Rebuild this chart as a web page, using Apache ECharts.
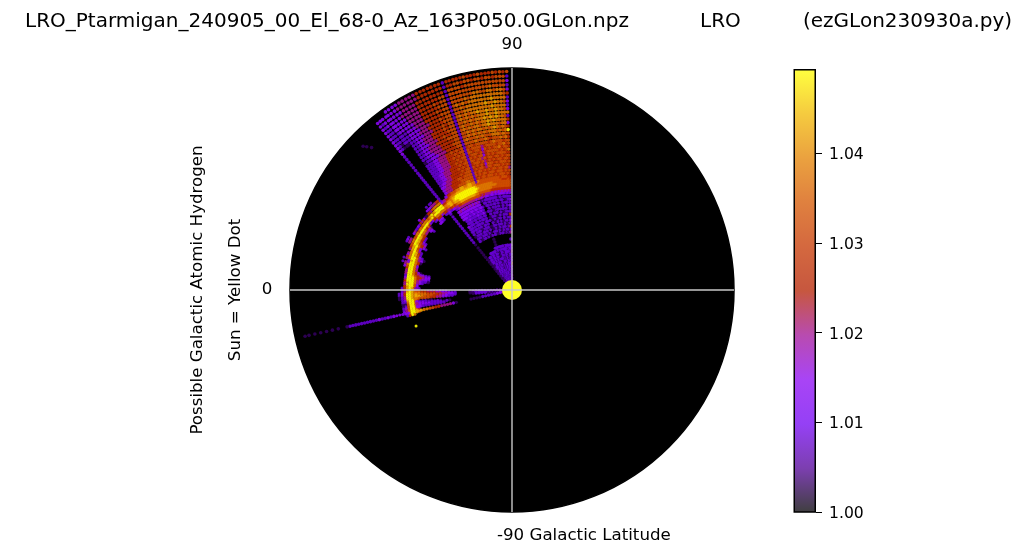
<!DOCTYPE html>
<html><head><meta charset="utf-8">
<style>html,body{margin:0;padding:0;background:#fff}#c{width:1024px;height:556px}</style>
<script src="https://cdn.jsdelivr.net/npm/echarts@6/dist/echarts.min.js"></script>
</head><body><div id="c"></div>
<script>
const colorTicks = [1.00, 1.01, 1.02, 1.03, 1.04];
const colorMin = 1.0, colorMax = 1.0494;
const gnuplotStops = ['#000000','#510096','#7202f2','#8c07f2','#a11096','#b42000','#c63700','#d55700','#e48300','#f2ba00','#ffff00'];
const levelValues = {1:1.003,2:1.008,3:1.014,4:1.020,5:1.027,6:1.033,7:1.038,8:1.043,9:1.049};

const mainAngles = [1.4,2.4,3.3,4.3,5.2,6.2,7.1,8.1,9.1,10,11,11.9,12.9,13.8,14.8,15.7,16.7,17.6,18.6,19.7,20.7,21.8,22.8,23.9,24.9,26,27,28.1,29.1,30.2,31.2,32.3,33.3,34.4,35.4,36.1,37.2,38,38.9];
const mainRadii = [6,9,12,15,18,21,24,27,30,33,36,39,42,45,48,51,54,58,61,64,67,70,73,76,79,82,85,88,91,94,97.5,100,102.5,105,107.5,110,112,114,117,120,123,126,129,132,135,138,141,144,147,150,153.5,157,160.5,164,167.5,171,174.5,178,181.6,185.2,189,193,197,201,205.2,209.5,214,218.5];
const mainRows = [
"2212222122212221222122212221221222122..",
"3122212.22212221.22122212221221.22122..",
"2222.2212221.2212221222.2212221222.21..",
"4122212.2.2122212.21222122.2122212.21.1",
"21.2212221.212.22.212.22212.21221.22..1",
"3212.2122.2.1221.22.1222.2122.22122.2.1",
"22.212.22.12.2.21.2.1.22122.2.1222.21.1",
"5.1222.2.2.1.22.1.2.12.2.212.212.222..1",
"22.2.12.2.1.2..2.21.1.2.22.2122.2.21..1",
"3.212.1.22.1.2.12.2..2.12.212.2122.2..1",
"22.2.21.2.2.12..2.1.1.222.122.212.2...1",
"4.212.222.2.1.2.2.1..2.2.2122.2122....1",
"22.22.12.22.2..2...2.2122.2.22........1",
"3.2.22.22.12.2.2.2.2.2................1",
"...................1..................1",
"2..................1..................1",
"...................1..................1",
"4.21.21.2..2.1.12..2.1.2.12.21.12.....1",
"2.12.212.1.2.12.2..1.2.12.2.212.2.....2",
"5.2.12.2.12.1.2.1..2.12.22.12.2.21....2",
"2.21.2.12.2..2.2.1.12.2.21.22.2.12....2",
"3.12.21.2.12.1.2...2.22.12.2.22.22....2",
"2.2.12..2.21.2.1.2.22.12.222.2.222....2",
"5.12.2.12.1.2.2.1..2.22.2.22.222.3....2",
"2.2.21.2.12.2.12...22.222.22.2222.....2",
"2.12.2.2.2.21.2.2.123222322222322.....2",
"3.2.12.12.2.2.12...223232232232333....2",
"2.22.2.12.22.2.22.1233233233233333....2",
"3221.22.22.2.22.22..33333333333333....2",
"22222.22122222222.2134343434343343....2",
"3232333323233233.43443444444444432....2",
"434343434343444454566666666666554433223",
"555555555555666666677888888888776565544",
"666666666667777777789999999999888788776",
"666666667777777777899999999999998788877",
"666666666677777777789999999999988777655",
"565556666666666666677888888888777655443",
"5566656666666666672778877887766655 3...2".replace(' ',''),
"5656665656665665652667766665554443....2",
"6565666566656656562666666555554443....2",
"4665665665656566562666656655544433....2",
"5656566656645665652666565555444332....2",
"6566656566635656562665655555443322....2",
"5665665656546566652656565554443322....2",
"6656566566564665662665655554443322....2",
"5566665656536656562656565544433222....2",
"7656566666546566652665655544433222....2",
"5665766565635665662656565544433222....2",
"6576656666546666562665655544433222....2",
"6656667656666656652656565544433222....2",
"5767666567666766662665555444333221....2",
"6676777666767666762666555544433322....2",
"9767677767676767662665555544443322....2",
"5676787676776767662666655554443322....2",
"3776777877677676762665565544433322....2",
"5777787877676766762666555554443322....2",
"2677878787776767662665655554443322....3",
"777787787776767676266565554443332211123",
"367787787787767676266655555444333222123",
"277778777777777666266565554443333222223",
"367787787777776766266655555444333222223",
"277778777777767676266565555444333332223",
"567777777777676666266655555444433333223",
"367767766776666666266565555444433333223",
"266667666666666666266555555444443333323",
"366666666666656666255555555444433333323",
"266656656656656655255555554444443333333",
"65656555655565555525555555444443333"
];

const arcAngles = [40,41,42,43,44,45,46,47,48,49,50,51,52,53,54,55,56,57,58,59,60,61,62,63,64,65,66,67,68,69,70,71,72,73,74,75,76,77,78,79,80,81,82,83,84,85,86,87,88,89,90,91,92,93,94,95,96,97,98,99,100,101,102,103,104];
const arcRadii = [84,87,90,92.5,95,97.5,100,102.5,105,107.5,110,113,116,119];
const arcColumns = [
"......2579975.","......2579975.",".......479974.",".......3799742",".....235799742",
".....23579863.",".....335797432",".....3.357953.",".......25985..","........3871..",
"........2861..","........3873..",".......15975..",".....23479743.","......335975..",
".......46962..",".......47973..",".......47972..",".......57962..","......257974..",
"......258973..","......25896...",".....235896...",".....34689742.",".....45689743.",
"....235799642.","......36986...","......36985...",".....247984...",".....25897....",
".....268974...","....2368973...","...12479975...","....34799742..","....157983....",
".....5799342..",".....379974...",".....379963...",".....47995....",".....47994....",
"...1357994....","2233457994....","3344568992....","3345579993....","2334579994....",
"1223479995....","..23479984....","....369994....","....369985....","....3689852...",
"....4789853...","....5789842...","....57899532..","....57899532..","....57899421..",
"....57899421..","....5799832...","....4799722...","....3799611...","....3799621...",
"....3799632...","....4799642...","....5899743...","....5899731...","......7952...."
];

const fanAngles = [89,90,91,92,93,94,95,96,97,98,99,100,101,102.5,103.5];
const fanRadii = [6,9,12,15,18,21,24,27,30,33,36,39,42,57,60,63,66,69,72,75,78,81,84,87,90,93,96];
const fanRows = [
"..34553322...4.","..34553322...4.","..24542222...3.","..23432211...3.","..22322211...2.",
"..22222.1....2.","..12222.1....2.","..12222......2.","..21222......2.","..22222......1.",
"..22122......1.","..12211......1.","..11.1.......1.",
"...222.......1.","...2332......3.","...3332...1..4.","..23433...2..4.","..23443...12.4.",
"..34544..122.4.","..34554..222.5.","..45655..222.5.","..45665.1222.6.","..45666.1232.6.",
"..56766.2232.7.","..56776.2332.7.","2.67786.2333.8.","2467887.3443.8."
];

const farSpikeAngle = 102.6;
const farSpikeRadii = [106,109,112,115,118,121,124,127,130,133,136,139,142,145,148,151,154,157,160,163,166,169,178,184,190,196,202,208,212];
const farSpikeLevels = [3,3,3,3,3,3,2,3,2,2,3,2,2,2,2,2,2,2,2,2,2,1,1,1,1,1,1,1,1];
const strayPoints = [[110.6,102.5,9],[45.4,204,1],[44.6,200,1],[46,207,1]];
const sunPoint = [[0,0]];
const crossLines = [[[222,0],[222,180]],[[222,90],[222,270]]];

const points = [];
function addCell(r,a,ch){ const v = levelValues[ch]; if(v) points.push([r,a,v]); }
mainRows.forEach((row,i)=>{ for(let j=0;j<row.length;j++) addCell(mainRadii[i],mainAngles[j],row[j]); });
arcColumns.forEach((col,i)=>{ for(let j=0;j<col.length;j++) addCell(arcRadii[j],arcAngles[i],col[j]); });
fanRows.forEach((row,i)=>{ for(let j=0;j<row.length;j++) addCell(fanRadii[i],fanAngles[j],row[j]); });
farSpikeRadii.forEach((r,i)=>addCell(r,farSpikeAngle,farSpikeLevels[i]));
strayPoints.forEach(p=>addCell(p[1],p[0],p[2]));

const FONT = '"DejaVu Sans"';
function txt(t,x,y,size,align,rot){
  return {type:'text',x:x,y:y,rotation:rot||0,silent:true,
    style:{text:t,fontFamily:FONT,fontSize:size,fill:'#000',align:align||'left',verticalAlign:'middle'}};
}
const gradStops = gnuplotStops.map((c,i)=>({offset:i/(gnuplotStops.length-1),color:c+'c0'}));
const chart = echarts.init(document.getElementById('c'),null,{renderer:'canvas'});
chart.setOption({
  animation:false,
  backgroundColor:'#fff',
  polar:{center:[512,290],radius:222},
  angleAxis:{type:'value',min:0,max:360,interval:90,startAngle:90,clockwise:false,
    axisLine:{show:true,lineStyle:{color:'#000',width:1.5}},axisTick:{show:false},axisLabel:{show:false},
    splitLine:{show:false},splitArea:{show:true,areaStyle:{color:['#000']}}},
  radiusAxis:{type:'value',min:0,max:222,axisLine:{show:false},axisTick:{show:false},axisLabel:{show:false},splitLine:{show:false},splitArea:{show:false}},
  grid:{left:793.5,top:69,width:22.5,height:443},
  xAxis:{type:'category',data:[''],gridIndex:0,axisLine:{show:false},axisTick:{show:false},axisLabel:{show:false}},
  yAxis:{type:'value',gridIndex:0,min:colorMin,max:colorMax,position:'right',splitLine:{show:false},
    axisLine:{show:false},
    axisTick:{show:true,length:6,lineStyle:{color:'#000',width:1},customValues:colorTicks},
    axisLabel:{show:true,margin:13,verticalAlign:'top',lineHeight:4,fontFamily:FONT,fontSize:15.6,color:'#000',customValues:colorTicks,formatter:v=>v.toFixed(2)}},
  visualMap:{show:false,type:'continuous',seriesIndex:0,dimension:2,min:colorMin,max:colorMax,inRange:{color:gnuplotStops}},
  series:[
    {type:'scatter',coordinateSystem:'polar',symbol:'circle',symbolSize:d=>d[0]<97?3.3:(d[1]>39.5&&d[0]<120?3:3.6),data:points,silent:true,large:false,progressive:0,itemStyle:{opacity:0.9,borderWidth:0},z:3},
    {type:'scatter',coordinateSystem:'polar',symbolSize:20,data:sunPoint,silent:true,itemStyle:{color:'#ffff28',opacity:1},z:4},
    ...crossLines.map(d=>({type:'line',coordinateSystem:'polar',data:d,symbol:'none',silent:true,lineStyle:{color:'#c8c8c8',width:1.4},z:5})),
    {type:'bar',xAxisIndex:0,yAxisIndex:0,data:[colorMax],barWidth:'100%',silent:true,
      itemStyle:{color:new echarts.graphic.LinearGradient(0,1,0,0,gradStops),borderColor:'#000',borderWidth:1.5},z:3}
  ],
  graphic:[
    txt('LRO_Ptarmigan_240905_00_El_68-0_Az_163P050.0GLon.npz',25,22,20),
    txt('LRO',700,22,20),
    txt('(ezGLon230930a.py)',803,22,20),
    txt('90',512,45,16.67,'center'),
    txt('0',267,290,16.67,'center'),
    txt('-90 Galactic Latitude',497,536,16.67),
    txt('Possible Galactic Atomic Hydrogen',198,290,16.67,'center',Math.PI/2),
    txt('Sun = Yellow Dot',236,290,16.67,'center',Math.PI/2)
  ]
});
</script></body></html>
